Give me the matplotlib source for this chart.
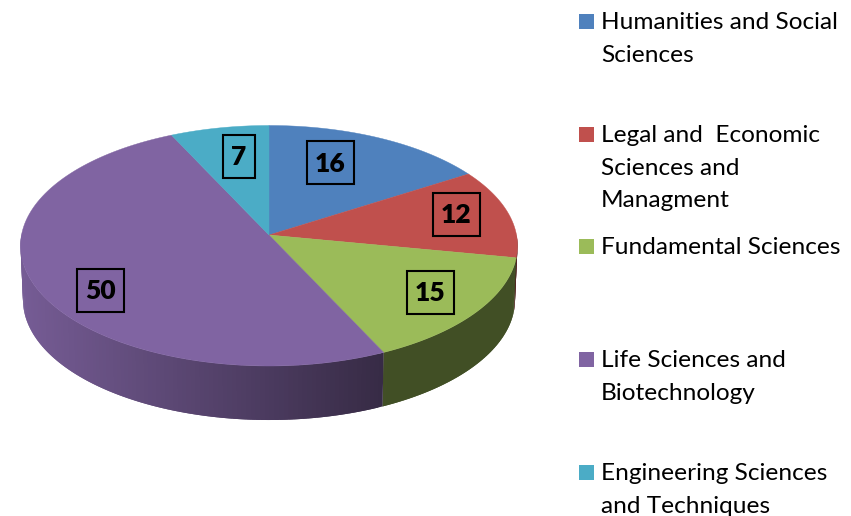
import numpy as np
import matplotlib
matplotlib.use("Agg")
import matplotlib.pyplot as plt
from matplotlib.colors import to_rgb
from matplotlib.patches import Rectangle

# slices, clockwise from twelve o'clock
values = [16, 12, 15, 50, 7]
colors = ["#4f81bd", "#c0504d", "#9bbb59", "#8064a2", "#4bacc6"]
legend_lines = [
    ["Humanities and Social", "Sciences"],
    ["Legal and  Economic", "Sciences and", "Managment"],
    ["Fundamental Sciences"],
    ["Life Sciences and", "Biotechnology"],
    ["Engineering Sciences", "and Techniques"],
]
label_centers = [(330.5, 162.5), (456.5, 214), (430.5, 292), (100.5, 290), (239, 156)]
legend_tops = [29, 142, 254, 367, 480]

# pie position on the page, in pixels
CX, CY = 269, 235
RX, RY = 247.5, 119.3
PERSP = 0.0894
DEPTH = 54


def project(t, r=1.0, drop=0.0, shrink=1.0):
    # t is degrees clockwise from the top, tilted circle with a bit of perspective
    t = np.radians(t)
    u = r * np.sin(t)
    v = r * np.cos(t)
    w = 1 + PERSP * v
    return CX + shrink * RX * u / w, CY + drop - RY * v / w


def side_shade(x):
    return np.interp(x, [20, 389, 517], [0.92, 0.42, 0.42])


fig = plt.figure(figsize=(8.51, 5.16), dpi=100)
ax = fig.add_axes([0, 0, 1, 1])
ax.set_xlim(0, 851)
ax.set_ylim(516, 0)
ax.axis("off")

edges = np.concatenate([[0], np.cumsum(values)]) * 360 / sum(values)

# side wall first, strips overlap the next one so no seams show
for i, col in enumerate(colors):
    ts = np.arange(edges[i], edges[i + 1], 1.0)
    base = np.array(to_rgb(col))
    for a in ts:
        b = min(a + 2.0, edges[i + 1])
        mid = a + 0.5
        if np.cos(np.radians(mid)) > 0:
            continue
        arc = np.linspace(a, b, 5)
        x1, y1 = project(arc)
        x2, y2 = project(arc[::-1], drop=DEPTH, shrink=0.99)
        c = base * side_shade(project(mid)[0])
        ax.fill(np.r_[x1, x2], np.r_[y1, y2], color=c, lw=0)

# top face
for i, col in enumerate(colors):
    ts = np.linspace(edges[i], edges[i + 1], 120)
    x, y = project(ts)
    ax.fill(np.r_[CX, x], np.r_[CY, y], color=col, lw=0.3)

# boxed value labels
for val, (x, y) in zip(values, label_centers):
    w = 47 if val >= 10 else 32
    ax.add_patch(Rectangle((x - w / 2, y - 21.5), w, 43, fill=False, ec="black", lw=1.5))
    ax.text(x, y + 1, str(val), ha="center", va="center", family="Lato",
            fontsize=19, fontweight="heavy", color="black")

# legend
for lines, col, top in zip(legend_lines, colors, legend_tops):
    ax.add_patch(Rectangle((579, top - 15), 15, 15, fc=col, ec="none"))
    for j, line in enumerate(lines):
        ax.text(601, top + j * 32.6, line, ha="left", va="baseline", family="Lato",
                fontsize=17.6, color="black")

fig.savefig("out.png", dpi=100)
